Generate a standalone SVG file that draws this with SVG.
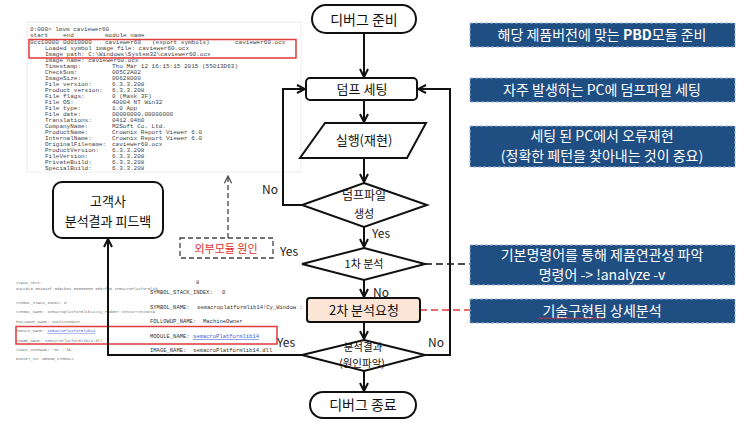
<svg xmlns="http://www.w3.org/2000/svg" width="750" height="428" viewBox="0 0 750 428">
<style>
.k{font-family:"Noto Sans CJK KR","Liberation Sans",sans-serif;fill:#111;text-anchor:middle}
.w{font-family:"Noto Sans CJK KR","Liberation Sans",sans-serif;fill:#fff;font-size:14px;text-anchor:middle}
.lbl{font-family:"Noto Sans CJK KR","Liberation Sans",sans-serif;fill:#222;font-size:12px}
.shape{fill:#fff;stroke:#111;stroke-width:2}
.blue{fill:#1f4e82;stroke:#9db3d6;stroke-width:1;stroke-dasharray:3 2}
.con{fill:none;stroke:#111;stroke-width:2}
.m{font-family:"Liberation Mono",monospace;font-size:6px;fill:#444}
.s{font-family:"Liberation Mono",monospace;font-size:4px;fill:#777}
.b{font-family:"Liberation Mono",monospace;font-size:5.5px;fill:#333}
</style>
<defs>
<marker id="arr" viewBox="0 0 10 10" refX="9" refY="5" markerWidth="10" markerHeight="10" markerUnits="userSpaceOnUse" orient="auto">
<path d="M1,1 L9,5 L1,9" fill="none" stroke="#111" stroke-width="2"/>
</marker>
<marker id="arrg" viewBox="0 0 10 10" refX="9" refY="5" markerWidth="9" markerHeight="9" markerUnits="userSpaceOnUse" orient="auto">
<path d="M1,1 L9,5 L1,9" fill="none" stroke="#444" stroke-width="1.3"/>
</marker>
</defs>
<rect width="750" height="428" fill="#fff"/>

<g id="screenshot-top">
<rect x="27" y="22" width="274" height="150" fill="#fff" stroke="#ececec" stroke-width="1"/>
<text class="m" x="30" y="31">0:000&gt; lmvm caviewer60</text>
<text class="m" y="37"><tspan x="30">start</tspan><tspan x="63">end</tspan><tspan x="105">module name</tspan></text>
<text class="m" y="44"><tspan x="30">0cc10000</tspan><tspan x="63">0d010000</tspan><tspan x="105">caviewer60</tspan><tspan x="152">(export symbols)</tspan><tspan x="235">caviewer60.ocx</tspan></text>
<text class="m" x="45" y="50">Loaded symbol image file: caviewer60.ocx</text>
<text class="m" x="45" y="56">Image path: C:\Windows\System32\caviewer60.ocx</text>
<text class="m" x="45" y="62">Image name: caviewer60.ocx</text>
<text class="m" y="68"><tspan x="45">Timestamp:</tspan><tspan x="112">Thu Mar 12 16:15:15 2015 (55013D63)</tspan></text>
<text class="m" y="74"><tspan x="45">CheckSum:</tspan><tspan x="112">005C2A02</tspan></text>
<text class="m" y="80"><tspan x="45">ImageSize:</tspan><tspan x="112">00628000</tspan></text>
<text class="m" y="86"><tspan x="45">File version:</tspan><tspan x="112">6.3.3.208</tspan></text>
<text class="m" y="92"><tspan x="45">Product version:</tspan><tspan x="112">6.3.3.208</tspan></text>
<text class="m" y="98"><tspan x="45">File flags:</tspan><tspan x="112">0 (Mask 3F)</tspan></text>
<text class="m" y="104"><tspan x="45">File OS:</tspan><tspan x="112">40004 NT Win32</tspan></text>
<text class="m" y="110"><tspan x="45">File type:</tspan><tspan x="112">1.0 App</tspan></text>
<text class="m" y="116"><tspan x="45">File date:</tspan><tspan x="112">00000000.00000000</tspan></text>
<text class="m" y="122"><tspan x="45">Translations:</tspan><tspan x="112">0412.04b0</tspan></text>
<text class="m" y="128"><tspan x="45">CompanyName:</tspan><tspan x="112">M2Soft Co. Ltd.</tspan></text>
<text class="m" y="134"><tspan x="45">ProductName:</tspan><tspan x="112">Crownix Report Viewer 6.0</tspan></text>
<text class="m" y="140"><tspan x="45">InternalName:</tspan><tspan x="112">Crownix Report Viewer 6.0</tspan></text>
<text class="m" y="146"><tspan x="45">OriginalFilename:</tspan><tspan x="112">caviewer60.ocx</tspan></text>
<text class="m" y="152"><tspan x="45">ProductVersion:</tspan><tspan x="112">6.3.3.208</tspan></text>
<text class="m" y="158"><tspan x="45">FileVersion:</tspan><tspan x="112">6.3.3.208</tspan></text>
<text class="m" y="164"><tspan x="45">PrivateBuild:</tspan><tspan x="112">6.3.3.208</tspan></text>
<text class="m" y="170"><tspan x="45">SpecialBuild:</tspan><tspan x="112">6.3.3.208</tspan></text>
<rect x="29" y="39.5" width="267" height="18.5" fill="none" stroke="#e03a3a" stroke-width="1.5"/>
</g>

<g id="screenshot-bottom">
<text class="s" x="16" y="284">STACK_TEXT:</text>
<text class="s" x="16" y="290">04ccdc0 0049a8f 0d0cb04 00000000 0d07f90 semacroPlatformlib</text>
<text class="s" x="16" y="304">SYMBOL_STACK_INDEX:  0</text>
<text class="s" x="16" y="313">SYMBOL_NAME:  semacroplatformlib14!Cy_Pudder SetCurrentNetw</text>
<text class="s" x="16" y="323">FOLLOWUP_NAME:  MachineOwner</text>
<text class="s" x="16" y="332">MODULE_NAME:  <tspan fill="#3a5bd8" text-decoration="underline">semacroPlatformlib14</tspan></text>
<text class="s" x="16" y="342">IMAGE_NAME:  semacroPlatformlib14.dll</text>
<text class="s" x="16" y="351">STACK_COMMAND:  ~0s ; kb</text>
<text class="s" x="16" y="360">BUCKET_ID:  WRONG_SYMBOLS</text>
<text class="b" x="196" y="284" fill="#8aa0c8">8</text>
<text class="b" y="294"><tspan x="150">SYMBOL_STACK_INDEX:</tspan><tspan x="222">0</tspan></text>
<text class="b" y="309"><tspan x="150">SYMBOL_NAME:</tspan><tspan x="197">semacroplatformlib14!Cy_Window :</tspan></text>
<text class="b" y="323"><tspan x="150">FOLLOWUP_NAME:</tspan><tspan x="203">MachineOwner</tspan></text>
<text class="b" y="338"><tspan x="150">MODULE_NAME:</tspan><tspan x="193" fill="#3a5bd8" text-decoration="underline">semacroPlatformlib14</tspan></text>
<text class="b" y="352"><tspan x="150">IMAGE_NAME:</tspan><tspan x="193">semacroPlatformlib14.dll</tspan></text>
<rect x="16" y="326.5" width="261" height="17.5" fill="none" stroke="#e03a3a" stroke-width="1.5"/>
</g>

<g id="connectors">
<path class="con" d="M364,33 V77" marker-end="url(#arr)"/>
<path class="con" d="M364,100 V122" marker-end="url(#arr)"/>
<path class="con" d="M364,158 V182" marker-end="url(#arr)"/>
<path class="con" d="M302,205 H283 V89 H305" marker-end="url(#arr)"/>
<path class="con" d="M364,227 V247" marker-end="url(#arr)"/>
<path class="con" d="M364,280 V297" marker-end="url(#arr)"/>
<path class="con" d="M364,322 V339" marker-end="url(#arr)"/>
<path class="con" d="M364,371 V391" marker-end="url(#arr)"/>
<path class="con" d="M425,355 H450 V89 H418" marker-end="url(#arr)"/>
<path class="con" d="M302,355 H108 V239" marker-end="url(#arr)"/>
<path d="M228,238 V176" fill="none" stroke="#444" stroke-width="1.3" stroke-dasharray="5 3" marker-end="url(#arrg)"/>
<path d="M425,264 H470" fill="none" stroke="#111" stroke-width="1.5" stroke-dasharray="7 4"/>
<path d="M420,310 H470" fill="none" stroke="#e03a3a" stroke-width="1.5" stroke-dasharray="7 4"/>
<text class="lbl" x="262" y="194">No</text>
<text class="lbl" x="372" y="238">Yes</text>
<text class="lbl" x="280" y="256">Yes</text>
<text class="lbl" x="373" y="297">No</text>
<text class="lbl" x="428" y="347">No</text>
<text class="lbl" x="277" y="347">Yes</text>
</g>

<g id="start">
<rect class="shape" x="312" y="5" width="104" height="28" rx="14"/>
<text class="k" x="364" y="25" font-size="14">디버그 준비</text>
</g>
<g id="dump-setting">
<rect class="shape" x="306" y="78" width="111" height="22" rx="4"/>
<text class="k" x="362" y="94" font-size="13">덤프 세팅</text>
</g>
<g id="run">
<polygon class="shape" points="325,123 426,123 407,158 300,158"/>
<text class="k" x="364" y="145" font-size="13">실행(재현)</text>
</g>
<g id="dump-created">
<polygon class="shape" points="364,183 427,205 364,227 302,205"/>
<text class="k" x="364" y="200" font-size="12">덤프파일</text>
<text class="k" x="364" y="218" font-size="11">생성</text>
</g>
<g id="first-analysis">
<polygon class="shape" points="364,248 425,264 364,280 302,264"/>
<text class="k" x="364" y="268" font-size="11">1차 분석</text>
</g>
<g id="second-analysis">
<rect x="307" y="298" width="113" height="24" rx="3" fill="#fbe5d6" stroke="#111" stroke-width="2"/>
<text class="k" x="364" y="315" font-size="13">2차 분석요청</text>
</g>
<g id="result">
<polygon class="shape" points="364,340 425,355 364,371 302,355"/>
<text class="k" x="363" y="351" font-size="10.5">분석결과</text>
<text class="k" x="362" y="367" font-size="10.5">(원인파악)</text>
</g>
<g id="end">
<rect class="shape" x="310" y="392" width="106" height="26" rx="13"/>
<text class="k" x="363" y="410" font-size="14">디버그 종료</text>
</g>
<g id="feedback">
<rect class="shape" x="53" y="182" width="110" height="56" rx="9"/>
<text class="k" x="108" y="206" font-size="13">고객사</text>
<text class="k" x="108" y="226" font-size="13">분석결과 피드백</text>
</g>
<g id="external-module">
<rect x="180" y="238" width="93" height="20" fill="#fff" stroke="#444" stroke-width="1.3" stroke-dasharray="5 3"/>
<text class="k" x="226" y="253" font-size="11" style="fill:#e03030">외부모듈 원인</text>
</g>

<g id="note1">
<rect class="blue" x="470" y="23" width="265" height="24"/>
<text class="w" x="602" y="40">해당 제품버전에 맞는 <tspan font-weight="bold">PBD</tspan>모듈 준비</text>
</g>
<g id="note2">
<rect class="blue" x="470" y="78" width="265" height="24"/>
<text class="w" x="602" y="95">자주 발생하는 PC에 덤프파일 세팅</text>
</g>
<g id="note3">
<rect class="blue" x="470" y="126" width="265" height="41"/>
<text class="w" x="602" y="141">세팅 된 PC에서 오류재현</text>
<text class="w" x="602" y="161">(정확한 페턴을 찾아내는 것이 중요)</text>
</g>
<g id="note4">
<rect class="blue" x="470" y="245" width="265" height="40"/>
<text class="w" x="602" y="260">기본명령어를 통해 제품연관성 파악</text>
<text class="w" x="602" y="280">명령어 -&gt; !analyze -v</text>
</g>
<g id="note5">
<rect class="blue" x="470" y="299" width="265" height="24"/>
<text class="w" x="602" y="316">기술구현팀 상세분석</text>
<path d="M538,319 l2,-1.5 l2,1.5 l2,-1.5 l2,1.5 l2,-1.5 l2,1.5 l2,-1.5 l2,1.5 l2,-1.5 l2,1.5 l2,-1.5 l2,1.5 l2,-1.5 l2,1.5 l2,-1.5 l2,1.5 l2,-1.5 l2,1.5 l2,-1.5 l2,1.5 l2,-1.5 l2,1.5 l2,-1.5 l2,1.5 l2,-1.5 l2,1.5 l2,-1.5 l2,1.5 l2,-1.5 l2,1.5 l2,-1.5 l2,1.5 l2,-1.5" fill="none" stroke="#e03030" stroke-width="0.8"/>
</g>
</svg>
